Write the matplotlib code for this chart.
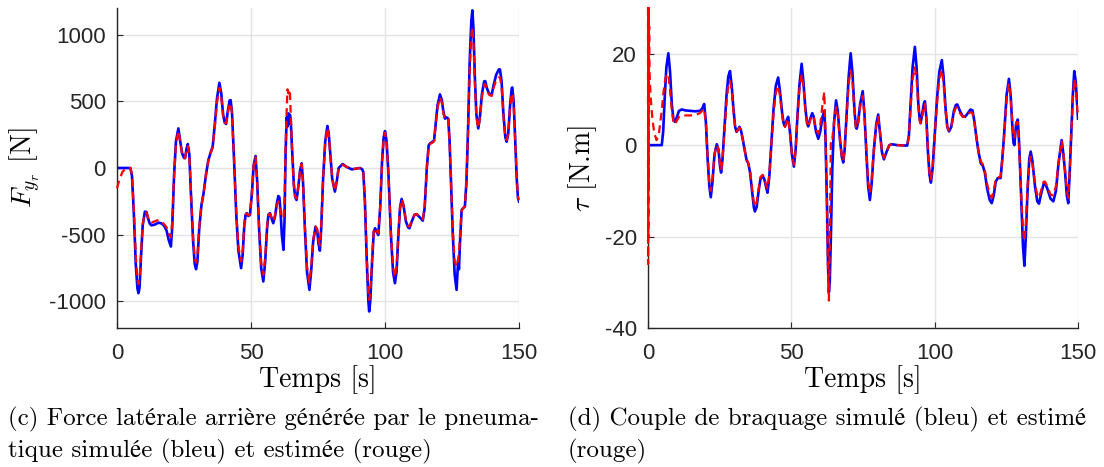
#! /usr/bin/env python3

import matplotlib
matplotlib.use('Agg')
import matplotlib.pyplot as plt

# (c) force laterale arriere : temps [s], simulee (bleu), estimee (rouge)
t_fy = [0, 5.0, 5.6, 6.3, 7.0, 7.6, 8.0, 8.4, 9.0, 9.6, 10.4, 11.0, 11.6,
        12.3, 12.9, 14, 15.5, 16.5, 17.5, 18.5, 19.3, 20.1, 20.6, 21.3, 22.0,
        22.9, 23.6, 24.3, 25.0, 25.4, 25.9, 26.4, 27.0, 27.6, 28.4, 29.0,
        29.5, 30.0, 30.7, 31.5, 32.3, 33.2, 34.1, 35.0, 35.7, 36.5, 37.3,
        38.2, 38.9, 39.6, 40.2, 40.7, 41.3, 42.0, 42.4, 42.9, 43.6, 44.5,
        45.3, 46.3, 46.9, 47.5, 48.0, 48.4, 49.0, 49.6, 50.3, 51.0, 51.7,
        52.3, 53.0, 53.8, 54.6, 55.3, 56.0, 56.5, 57.1, 57.7, 58.3, 59.0,
        59.6, 60.2, 60.6, 61.0, 61.5, 62.1, 62.5, 62.9, 63.3, 63.6, 63.9,
        64.2, 64.5, 64.8, 65.3, 66.0, 66.5, 67.0, 67.6, 68.3, 68.9, 69.4,
        70.1, 70.9, 71.8, 72.5, 73.2, 74.1, 74.7, 75.2, 75.7, 76.2, 76.9,
        77.7, 78.5, 79.0, 79.6, 80.3, 81.3, 82.0, 82.7, 84.2, 85.5, 87.6,
        90.7, 91.5, 91.9, 92.5, 93.2, 93.8, 94.1, 94.5, 95.2, 95.8, 96.3,
        96.9, 97.5, 98.2, 98.9, 99.5, 100.0, 100.6, 101.3, 102.2, 103.0,
        103.7, 104.3, 105.0, 105.6, 106.2, 106.9, 107.8, 108.6, 109.1, 110.0,
        111.0, 111.8, 113.0, 114.1, 114.8, 115.6, 116.3, 116.8, 117.6, 118.3,
        118.9, 119.6, 120.5, 121.2, 121.8, 122.4, 122.9, 123.6, 124.1, 124.7,
        125.3, 126.0, 126.7, 127.0, 127.3, 127.6, 128.0, 128.6, 129.2, 129.8,
        130.4, 131.0, 131.6, 132.2, 132.6, 133.0, 133.5, 134.1, 134.8, 135.4,
        136.2, 137.0, 137.4, 138.0, 138.8, 139.8, 140.5, 141.5, 142.5, 142.9,
        143.5, 144.2, 144.9, 145.4, 146.0, 146.7, 147.3, 147.5, 148.0, 148.6,
        149.2, 149.6, 150]
fy_sim = [0, 0, -60, -350, -720, -900, -939, -900, -650, -430, -327, -330,
          -380, -420, -430, -425, -410, -415, -430, -470, -540, -589, -450,
          -50, 200, 297, 200, 110, 75, 73, 140, 180, 100, -200, -550, -720,
          -759, -700, -450, -280, -190, -50, 60, 120, 160, 330, 520, 639, 560,
          400, 340, 330, 420, 505, 509, 420, 100, -350, -620, -751, -650,
          -430, -350, -339, -360, -352, -200, 20, 90, -100, -450, -750, -851,
          -700, -450, -350, -339, -380, -414, -360, -270, -210, -220, -320,
          -500, -614, -400, 100, 380, 310, 410, 330, 400, 370, 150, -130,
          -220, -240, -150, -20, 35, -100, -450, -780, -914, -760, -550, -440,
          -470, -570, -620, -450, -80, 200, 315, 260, 100, -80, -177, -100, 0,
          30, 10, -10, 0, -10, -30, -250, -700, -1000, -1076, -1000, -700,
          -480, -452, -480, -502, -300, 50, 230, 277, 200, -50, -500, -780,
          -864, -780, -500, -300, -232, -280, -400, -445, -452, -400, -350,
          -347, -370, -395, -300, 0, 170, 185, 195, 205, 330, 470, 552, 510,
          420, 370, 380, 370, 200, -150, -500, -800, -914, -800, -690, -760,
          -550, -315, -300, -290, -100, 300, 800, 1100, 1183, 1050, 700, 400,
          297, 380, 560, 650, 652, 600, 560, 547, 620, 700, 740, 739, 650,
          400, 230, 197, 260, 480, 600, 604, 500, 200, -100, -220, -252]
t_fy_est = [0, 1.0, 2.1, 3.5] + t_fy[1:]
fy_est = [-152, -80, -27, 0,
          0, -50, -320, -660, -840, -870, -840, -620, -420, -335, -335,
          -370, -405, -410, -400, -390, -400, -420, -445, -490, -520, -400,
          -60, 180, 280, 190, 105, 75, 75, 130, 165, 90, -190, -520, -680,
          -710, -660, -440, -280, -190, -50, 55, 115, 155, 310, 490, 600, 530,
          390, 340, 335, 410, 480, 485, 410, 100, -330, -590, -700, -620,
          -420, -350, -340, -355, -350, -190, 20, 80, -100, -430, -710, -800,
          -670, -440, -350, -345, -375, -400, -350, -280, -250, -290, -330,
          -370, -375, -250, 150, 420, 590, 560, 590, 580, 420, 150, -130,
          -215, -230, -145, -20, 30, -100, -430, -740, -860, -730, -540, -440,
          -460, -540, -580, -430, -80, 190, 300, 250, 100, -80, -170, -100, 0,
          25, 10, -10, 0, -10, -30, -240, -660, -940, -989, -940, -670,
          -470, -450, -475, -490, -290, 45, 220, 265, 195, -50, -480, -740,
          -820, -750, -490, -300, -235, -280, -390, -435, -440, -395, -350,
          -345, -365, -385, -295, 0, 165, 180, 190, 200, 320, 450, 530, 490,
          410, 365, 372, 365, 195, -140, -470, -700, -739, -720, -680, -640,
          -500, -320, -300, -290, -100, 280, 730, 990, 1058, 950, 650, 380,
          300, 370, 540, 625, 630, 590, 550, 540, 600, 660, 680, 680, 610,
          390, 230, 210, 260, 460, 560, 560, 480, 200, -90, -210, -240]

# (d) couple de braquage : temps [s], simule (bleu), estime (rouge)
t_tau = [0, 4.8, 5.3, 5.8, 6.4, 7.1, 7.7, 8.3, 8.9, 9.4, 10.0, 10.8, 11.8,
         13, 14.7, 16.5, 18.1, 18.9, 19.6, 20.2, 20.8, 21.4, 21.9, 22.5,
         23.2, 24, 24.6, 25.1, 25.5, 26, 26.6, 27.4, 28.0, 28.6, 29.2, 29.8,
         30.4, 30.9, 31.5, 31.9, 32.4, 33, 33.7, 34.4, 35, 35.6, 36.3, 36.9,
         37.3, 37.9, 38.6, 39.2, 40.0, 40.6, 41.3, 41.7, 42.3, 43.0, 43.8,
         44.6, 45.4, 46.0, 46.8, 47.3, 47.8, 48.4, 48.9, 49.5, 50.2, 50.9,
         51.5, 52.1, 52.8, 53.6, 54.2, 54.9, 55.5, 55.9, 56.6, 57.3, 57.8,
         58.6, 59.4, 60.1, 60.8, 61.5, 61.9, 62.4, 62.8, 63.1, 63.4, 63.8,
         64.3, 64.9, 65.6, 66.2, 67.0, 67.6, 68.1, 68.6, 69.3, 70.0, 70.7,
         71.3, 72.0, 72.5, 72.8, 73.3, 74.0, 74.9, 75.5, 76.2, 76.8, 77.4,
         78.0, 78.8, 79.6, 80.3, 80.9, 81.6, 82.3, 83.2, 84.2, 85, 87, 90.4,
         91.0, 91.6, 92.3, 93.1, 93.7, 94.3, 94.8, 95.1, 95.7, 96.2, 96.6,
         97.1, 97.7, 98.2, 98.7, 99.3, 100, 100.8, 101.6, 102.5, 103.1, 103.8,
         104.4, 105, 105.8, 106.7, 107.4, 107.9, 108.8, 109.8, 110.6, 111.6,
         112.5, 113.2, 113.9, 114.6, 115.3, 116.1, 116.8, 117.5, 118.3, 119.2,
         119.9, 120.6, 121.3, 122, 123, 123.6, 124.3, 125.1, 125.9, 126.5,
         127.1, 127.5, 127.8, 128.4, 129, 129.5, 130.2, 130.8, 131.3, 131.8,
         132.4, 133.0, 133.5, 134.1, 135, 135.8, 136.4, 137.2, 138.0, 138.5,
         139.3, 140.4, 141.4, 142.3, 143.2, 144.3, 144.9, 145.5, 146.1, 146.6,
         147.1, 147.7, 148.2, 148.7, 149.2, 150]
tau_sim = [0, 0, 3, 10, 17, 20.1, 16, 9, 5.5, 5.1, 6, 7.5, 7.8, 7.6, 7.5,
           7.4, 7.5, 8, 9, 5, -3, -9, -11.4, -8, -2, 0.2, -1, -4.5, -6, -3,
           3, 11, 15, 16.2, 13, 8, 4, 2.9, 3.5, 4.0, 3.3, 1.5, -1, -3.3, -4,
           -6, -10, -13.5, -14.5, -13.5, -10, -7.5, -6.7, -7.5, -9.5, -10.4,
           -7, 0, 8, 13, 14.8, 12, 7, 4.8, 4.1, 5.5, 6.2, 3, -2, -4.7, -1, 6,
           13, 17.8, 14, 8, 4.8, 4.1, 5.8, 7, 6.2, 3, 1.4, 3, 6, 7.5, 2, -12,
           -26, -32.2, -30, -20, -5, 5, 9.8, 7.5, 1, -2.5, -3.8, -1, 7, 15,
           20.1, 16, 8, 4, 3.6, 5, 9, 11.8, 7, -2, -9, -12, -8.5, -1, 4.5,
           6.7, 3, -1.5, -3.1, -1.5, 0, 0.2, 0, -0.1, 2, 9, 17, 21.5, 17, 9,
           5.5, 4.8, 7, 9, 9.6, 6, -2, -6.5, -8.2, -5, 2, 10, 16, 18.6, 15, 8,
           4, 3.0, 4, 7.5, 8.8, 8.9, 7.5, 6.3, 6.2, 7, 7.8, 7.6, 5, 1.5, -1.5,
           -4.0, -4.5, -6, -9.5, -12, -12.7, -11, -8, -7.2, -7.2, -3, 3, 11,
           14.5, 11, 4, 0.5, 0, 4.5, 5.6, 0, -12, -22, -26.4, -20, -10, -3,
           -1.4, -3.5, -9, -12.3, -12.8, -10.5, -8.5, -8.3, -9.5, -11.7,
           -12.3, -10, -4, 1.1, -2, -6, -11, -12.7, -6, 3, 11, 16.2, 14, 5.8]
t_tau_est = [0, 0.03, 0.06, 0.09, 0.12, 0.15, 0.18, 0.21, 0.25, 0.3, 0.4,
             0.55, 0.7, 1.0, 1.5, 2.2, 3.0, 3.8] + t_tau[1:]
tau_est = [30, -26, 30, -20, 30, -10, 28, 18, 30, 20, 26, 16, 13.5, 10, 6,
           2.5, 1.1, 2.5,
           7.6, 11, 13.5, 15.5, 15.5, 12, 7.5, 5, 4.5, 5.3, 6.2, 6.5, 6.5,
           6.5, 6.6, 7.0, 7.5, 8, 4.5, -2.5, -8, -10, -7.5, -2, 0, -1, -4,
           -5.5, -3, 2.5, 9.5, 13, 14, 12, 7.5, 4, 3, 3.5, 3.8, 3.2, 1.5, -1,
           -3, -4, -5.5, -9.5, -12.5, -13.5, -12.5, -9.5, -7, -6.5, -7.3, -9,
           -9.5, -6.5, 0, 7, 11.5, 13, 11, 6.5, 4.6, 4, 5.2, 5.8, 3, -2, -4.3,
           -1, 5.5, 12, 15.5, 13, 7.5, 4.7, 4, 5.5, 6.5, 6, 3.5, 2.5, 4.5,
           8.5, 11.6, 3, -12, -28, -34, -22, 1.5, 1.4, 5, 8.5, 6.5, 1, -2.3,
           -3.4, -1, 6.5, 13.5, 16.3, 14, 7.5, 4, 3.8, 5, 8.5, 10.8, 6.5,
           -1.5, -8, -10.5, -7.5, -1, 4.2, 6.2, 3, -1.3, -2.8, -1.3, 0, 0.2,
           0, -0.1, 2, 8, 14.5, 17, 14.5, 8.5, 5.3, 4.8, 6.5, 8.3, 9, 5.5,
           -1.5, -6, -7.5, -4.5, 2, 9, 14.5, 16.5, 13.5, 7.5, 4, 3.2, 4, 7,
           8.2, 8.2, 7, 6.2, 6.2, 6.8, 7.2, 7, 4.8, 1.5, -1.5, -3.6, -4.2,
           -5.5, -8.5, -10.8, -11.5, -10, -7.5, -7, -7, -3, 2.5, 10, 13.5,
           10.5, 5, 2, 1.5, 5, 5, -1, -11, -18.5, -21, -17, -9, -4, -2.5, -4,
           -8.5, -11, -11.5, -9.8, -8, -8, -9, -10.8, -11, -9, -4, 1, -2,
           -5.5, -10, -11.5, -5.5, 3, 10, 14.5, 13, 6]

fy_ticks = [-1000, -500, 0, 500, 1000]
tau_ticks = [-40, -20, 0, 20]
t_ticks = [0, 50, 100, 150]

cap_c = ['(c) Force latérale arrière générée par le pneuma-',
         'tique simulée (bleu) et estimée (rouge)']
cap_d = ['(d) Couple de braquage simulé (bleu) et estimé',
         '(rouge)']

fam = ['cmr10', 'STIXGeneral']


def style_axes(ax, yticks):
    ax.set_xlim(0, 150)
    ax.set_xticks(t_ticks)
    ax.set_yticks(yticks)
    ax.grid(True, color='#e3e3e3', linewidth=1.0)
    ax.set_axisbelow(True)
    for s in ['top', 'right']:
        ax.spines[s].set_visible(False)
    for s in ['left', 'bottom']:
        ax.spines[s].set_color('#262626')
        ax.spines[s].set_linewidth(1.0)
    ax.tick_params(direction='in', length=4, width=0.8, color='#262626',
                   labelsize=16, labelcolor='#262626')
    ax.tick_params(axis='x', pad=11)
    ax.tick_params(axis='y', pad=8)
    for lab in ax.get_xticklabels() + ax.get_yticklabels():
        lab.set_fontfamily('Liberation Sans')
    ax.set_xlabel('Temps [s]', fontsize=20, family=fam, labelpad=1)


def main():
    plt.rcParams['mathtext.fontset'] = 'cm'
    plt.rcParams['axes.unicode_minus'] = False
    fig = plt.figure(figsize=(11.04, 4.67), dpi=100)
    W, H = 1104, 467

    ax1 = fig.add_axes([117/W, 1 - 328/H, 402/W, 320/H])
    ax1.plot(t_fy, fy_sim, color='b', linewidth=1.9)
    ax1.plot(t_fy_est, fy_est, color='r', linewidth=1.6, dashes=(3.5, 2.2),
             zorder=3, clip_on=False)
    ax1.set_ylim(-1200, 1200)
    style_axes(ax1, fy_ticks)
    ax1.set_ylabel(r'$F_{y_r}$ [N]', fontsize=20, family=fam, labelpad=4)

    ax2 = fig.add_axes([648/W, 1 - 328/H, 430/W, 320/H])
    ax2.plot(t_tau, tau_sim, color='b', linewidth=1.9)
    ax2.plot(t_tau_est, tau_est, color='r', linewidth=1.6, dashes=(3.5, 2.2),
             zorder=3, clip_on=False)
    ax2.set_ylim(-40, 30)
    style_axes(ax2, tau_ticks)
    ax2.set_ylabel(r'$\tau$ [N.m]', fontsize=20, family=fam, labelpad=4)

    for i, line in enumerate(cap_c):
        fig.text(8/W, 1 - (419 + 32*i)/H, line, fontsize=18, family=fam,
                 va='center', ha='left')
    for i, line in enumerate(cap_d):
        fig.text(568/W, 1 - (419 + 32*i)/H, line, fontsize=18, family=fam,
                 va='center', ha='left')

    fig.savefig('out.png', dpi=100)


if __name__ == '__main__':
    main()
